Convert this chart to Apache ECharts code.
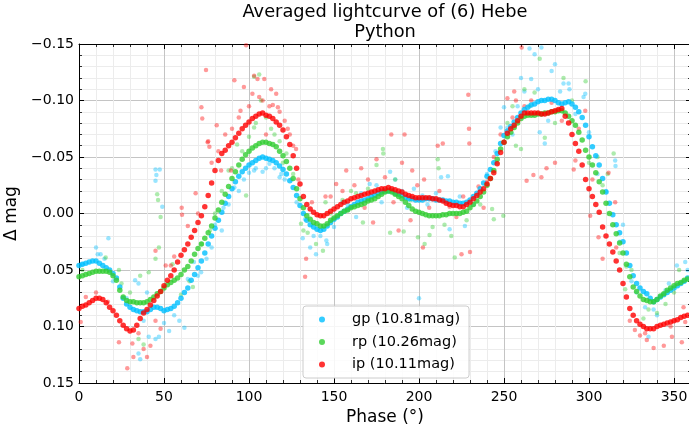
<!DOCTYPE html>
<html>
<head>
<meta charset="utf-8">
<script src="https://cdn.jsdelivr.net/npm/echarts@6/dist/echarts.min.js"></script>
<style>html,body{margin:0;padding:0;background:#fff}#chart{width:689px;height:433px}</style>
</head>
<body>
<div id="chart"></div>
<script>
// Phase samples (degrees) of the averaged curves
const phases = [0,2,4,6,8,10,12,14,16,18,20,22,24,26,28,30,32,34,36,38,40,42,44,46,48,50,52,54,56,58,60,62,64,66,68,70,72,74,76,78,80,82,84,86,88,90,92,94,96,98,100,102,104,106,108,110,112,114,116,118,120,122,124,126,128,130,132,134,136,138,140,142,144,146,148,150,152,154,156,158,160,162,164,166,168,170,172,174,176,178,180,182,184,186,188,190,192,194,196,198,200,202,204,206,208,210,212,214,216,218,220,222,224,226,228,230,232,234,236,238,240,242,244,246,248,250,252,254,256,258,260,262,264,266,268,270,272,274,276,278,280,282,284,286,288,290,292,294,296,298,300,302,304,306,308,310,312,314,316,318,320,322,324,326,328,330,332,334,336,338,340,342,344,346,348,350,352,354,356,358];

const gpAvg = [
0.046,0.045,0.044,0.043,0.042,0.042,0.044,0.046,0.048,0.050,
0.053,0.057,0.065,0.075,0.080,0.083,0.085,0.086,0.087,0.087,
0.087,0.085,0.083,0.083,0.084,0.086,0.085,0.084,0.082,0.079,
0.075,0.070,0.066,0.059,0.054,0.048,0.042,0.035,0.027,0.020,
0.013,0.006,-0.001,-0.009,-0.015,-0.022,-0.028,-0.033,-0.037,-0.040,
-0.043,-0.045,-0.047,-0.049,-0.050,-0.049,-0.048,-0.047,-0.045,-0.042,
-0.039,-0.035,-0.029,-0.023,-0.016,-0.007,0.000,0.006,0.010,0.012,
0.014,0.015,0.014,0.011,0.008,0.005,0.003,0.000,-0.002,-0.004,
-0.006,-0.008,-0.010,-0.011,-0.012,-0.013,-0.015,-0.016,-0.018,-0.019,
-0.020,-0.020,-0.020,-0.018,-0.017,-0.016,-0.014,-0.013,-0.013,-0.012,
-0.012,-0.012,-0.013,-0.013,-0.013,-0.012,-0.012,-0.012,-0.011,-0.011,
-0.010,-0.010,-0.009,-0.009,-0.010,-0.012,-0.015,-0.018,-0.022,-0.027,
-0.033,-0.039,-0.045,-0.053,-0.062,-0.069,-0.073,-0.077,-0.081,-0.085,
-0.089,-0.092,-0.094,-0.096,-0.097,-0.099,-0.100,-0.100,-0.101,-0.101,
-0.100,-0.098,-0.097,-0.098,-0.099,-0.097,-0.094,-0.090,-0.085,-0.078,
-0.068,-0.059,-0.051,-0.043,-0.031,-0.019,-0.009,0.001,0.010,0.017,
0.025,0.035,0.046,0.055,0.062,0.066,0.069,0.071,0.075,0.078,
0.076,0.074,0.072,0.070,0.068,0.066,0.064,0.062,0.060,0.057];

const rpAvg = [
0.056,0.055,0.054,0.053,0.052,0.051,0.051,0.051,0.051,0.052,
0.055,0.059,0.068,0.074,0.077,0.078,0.078,0.079,0.079,0.079,
0.078,0.076,0.074,0.071,0.069,0.066,0.063,0.061,0.059,0.057,
0.054,0.050,0.047,0.042,0.036,0.031,0.027,0.022,0.017,0.011,
0.004,-0.003,-0.010,-0.017,-0.024,-0.031,-0.037,-0.043,-0.048,-0.052,
-0.055,-0.058,-0.060,-0.062,-0.063,-0.063,-0.062,-0.061,-0.059,-0.055,
-0.051,-0.046,-0.040,-0.031,-0.022,-0.013,-0.005,0.002,0.005,0.008,
0.009,0.011,0.011,0.009,0.006,0.004,0.002,0.000,-0.002,-0.003,
-0.005,-0.006,-0.007,-0.008,-0.009,-0.011,-0.012,-0.013,-0.015,-0.017,
-0.019,-0.020,-0.019,-0.017,-0.015,-0.013,-0.010,-0.007,-0.004,-0.002,
-0.001,0.000,0.001,0.002,0.002,0.002,0.002,0.001,0.001,0.000,
0.000,0.000,0.000,-0.001,-0.002,-0.005,-0.008,-0.011,-0.015,-0.019,
-0.025,-0.031,-0.038,-0.048,-0.057,-0.063,-0.068,-0.072,-0.076,-0.080,
-0.084,-0.086,-0.087,-0.087,-0.087,-0.088,-0.088,-0.089,-0.089,-0.090,
-0.090,-0.091,-0.091,-0.089,-0.086,-0.082,-0.078,-0.072,-0.065,-0.056,
-0.050,-0.043,-0.036,-0.028,-0.019,-0.009,0.000,0.010,0.018,0.026,
0.035,0.045,0.056,0.065,0.069,0.073,0.076,0.077,0.078,0.078,
0.076,0.073,0.071,0.068,0.066,0.064,0.062,0.061,0.059,0.058];

const ipAvg = [
0.084,0.082,0.081,0.079,0.077,0.075,0.075,0.076,0.079,0.083,
0.086,0.090,0.095,0.099,0.102,0.104,0.103,0.099,0.093,0.088,
0.085,0.081,0.077,0.073,0.069,0.064,0.059,0.055,0.050,0.043,
0.037,0.032,0.027,0.021,0.015,0.008,0.002,-0.006,-0.016,-0.027,
-0.038,-0.047,-0.053,-0.056,-0.060,-0.063,-0.067,-0.071,-0.075,-0.078,
-0.081,-0.084,-0.086,-0.088,-0.089,-0.087,-0.086,-0.084,-0.081,-0.078,
-0.074,-0.068,-0.061,-0.051,-0.040,-0.026,-0.015,-0.008,-0.004,-0.001,
0.001,0.002,0.002,0.000,-0.002,-0.004,-0.006,-0.008,-0.010,-0.011,
-0.013,-0.014,-0.015,-0.016,-0.017,-0.018,-0.019,-0.020,-0.021,-0.022,
-0.022,-0.023,-0.022,-0.021,-0.020,-0.019,-0.017,-0.016,-0.015,-0.014,
-0.014,-0.014,-0.014,-0.014,-0.013,-0.013,-0.012,-0.011,-0.009,-0.008,
-0.007,-0.007,-0.006,-0.006,-0.008,-0.010,-0.013,-0.016,-0.019,-0.022,
-0.026,-0.031,-0.036,-0.044,-0.054,-0.063,-0.071,-0.075,-0.078,-0.082,
-0.086,-0.089,-0.089,-0.089,-0.089,-0.089,-0.088,-0.088,-0.089,-0.090,
-0.091,-0.092,-0.093,-0.086,-0.080,-0.070,-0.062,-0.055,-0.043,-0.030,
-0.022,-0.015,-0.008,-0.001,0.012,0.020,0.027,0.034,0.042,0.050,
0.062,0.074,0.084,0.090,0.095,0.098,0.100,0.102,0.102,0.102,
0.100,0.099,0.098,0.097,0.096,0.095,0.094,0.092,0.091,0.090];

// Individual (raw) measurements [phase, delta mag]
const gpRaw = [[2,0.045],[10,0.030],[11,0.036],[12.7,0.036],[17.3,0.022],[15,0.040],[33,0.059],[35,0.062],[45,-0.039],[47.5,-0.039],[45.5,-0.034],[45,-0.029],[49,-0.006],[41,0.109],[45,0.111],[47,0.109],[35,0.124],[36,0.129],[53,0.104],[59,0.095],[62,0.101],[67.6,0.043],[50,0.097],[38,0.095],[56,0.090],[64,0.058],[70,0.055],[20,0.060],[28,0.075],[40,0.070],
[71.8,0.052],[80,0.010],[91.4,-0.023],[103,-0.038],[108,-0.037],[119,-0.035],[118,-0.032],[131.6,0.022],[139.4,0.036],[136,0.030],[142,0.020],[85,-0.005],[97,-0.030],[112,-0.044],[125,-0.030],
[200,0.075],[183,-0.037],[186,-0.030],[202,-0.016],[171,-0.026],[145.5,0.024],[146,0.027],[163,0.003],[213,-0.032],[155,-0.010],[193,-0.005],[178,-0.010],
[265,-0.146],[272,-0.147],[268,-0.141],[280,-0.132],[278,-0.126],[260,-0.120],[266,-0.119],[250,-0.094],[248,-0.076],[252,-0.076],[271,-0.072],[274,-0.062],[217,-0.033],[218,0.014],[227,0.011],[285,-0.115],[276,-0.082],[262,-0.108],
[288,-0.115],[288.5,-0.110],[297.8,-0.106],[296.8,-0.103],[315.4,-0.047],[315.6,-0.042],[351.7,0.046],[356.6,0.043],[325,0.060],[333,0.083],[335,0.109],[347,0.062],[340,0.090],[310,-0.020],[320,0.010],
[75,0.040],[78,0.030],[84,0.015],[88,-0.008],[94,-0.020],[100,-0.036],[104,-0.040],[110,-0.040],[115,-0.040],[121,-0.030],[128,-0.010],[133,0.005],[138,0.020],[150,0.012],[158,-0.008],[166,-0.018],[175,-0.025],[190,-0.020],[197,-0.022],[205,-0.008],[210,-0.018],[224,-0.015],[232,-0.008],[240,-0.035],[245,-0.055],[255,-0.070],[258,-0.095],[270,-0.110],[283,-0.108],[292,-0.088],[300,-0.072],[305,-0.035],[318,0.025],[328,0.070],[338,0.085],[345,0.068],[358,0.050]];

const rpRaw = [[2,0.050],[15.7,0.039],[23.5,0.050],[36,0.055],[46,-0.017],[46.5,-0.012],[48,0.003],[47,0.030],[45,0.040],[41,0.052],[35,0.111],[38,0.116],[65,0.060],[67,0.065],[30,0.070],[55,0.045],[25,0.062],[60,0.072],
[103,-0.121],[106,-0.123],[107,-0.100],[103,-0.076],[93,-0.061],[88,-0.038],[122,-0.053],[130.6,0.009],[134.5,0.017],[139.4,0.027],[98.3,-0.016],[77,0.015],[72,0.027],[115,-0.070],
[178.8,-0.057],[179,-0.053],[175,-0.043],[211,-0.048],[211.5,-0.040],[199.4,0.021],[203.3,0.027],[206.2,0.019],[183,0.017],[191,0.016],[158,-0.003],[167,0.008],[145,-0.010],[143.5,0.033],[160,-0.020],
[271,-0.137],[285,-0.120],[262,-0.110],[268,-0.107],[249.6,0.002],[243,-0.004],[244,0.005],[221,0.039],[219,0.020],[257,-0.060],[260,-0.057],[274,-0.067],[255,-0.095],
[298,-0.117],[314.5,-0.053],[322,0.047],[325,0.050],[353,0.050],[332,0.093],[321.3,0.067],[305,-0.050],[311,-0.035],[345,0.080],[340,0.088],
[80,0.000],[84,-0.020],[90,-0.040],[96,-0.055],[100,-0.068],[104,-0.080],[110,-0.085],[113,-0.075],[118,-0.064],[120,-0.045],[126,-0.035],[132,0.015],[148,0.000],[155,-0.012],[163,-0.018],[170,-0.022],[186,-0.030],[195,-0.012],[208,0.012],[215,0.010],[228,0.006],[236,-0.008],[246,-0.045],[252,-0.080],[265,-0.095],[280,-0.080],[290,-0.100],[300,-0.045],[308,-0.025],[318,0.035],[335,0.085],[350,0.070]];

const ipRaw = [[28.4,0.137],[23.5,0.114],[31.4,0.115],[38,0.120],[40,0.127],[32,0.127],[35,0.106],[42,0.117],[60.4,-0.005],[60.6,0.001],[64,0.011],[70,0.000],[68.6,-0.018],[4,0.074],[10,0.070],[1,0.096],[17,0.078],[54,0.046],[45,0.033],[51,0.046],[45,0.095],[48,0.102],[56,0.038],
[98.3,-0.149],[74.7,-0.127],[91.4,-0.118],[103,-0.122],[105,-0.119],[109,-0.119],[97,-0.112],[102,-0.106],[106,-0.103],[113,-0.110],[116,-0.106],[114,-0.096],[117,-0.094],[95,-0.091],[72,-0.094],[72.5,-0.084],[81,-0.078],[75.7,-0.063],[76.7,-0.059],[76,-0.064],[122.8,-0.075],[124,-0.070],[127.7,-0.057],[83.6,-0.038],[89.4,-0.038],[133.6,0.040],[133,0.056],[126,-0.060],[110,-0.070],
[183.7,-0.070],[191.5,-0.070],[157.2,-0.038],[175,-0.048],[166,-0.040],[151.3,-0.026],[211,-0.060],[214,-0.062],[196,-0.038],[203,-0.030],[173,0.008],[195,0.006],[202.3,0.030],[188,0.015],[170,-0.030],[145,-0.015],[190,-0.045],
[229,-0.105],[260.4,-0.147],[229.4,-0.075],[229.6,-0.062],[225,0.036],[230,0.034],[263.3,-0.029],[267.3,-0.034],[272,-0.032],[275,-0.040],[280,-0.045],[257,-0.100],[256,-0.108],[262,-0.095],[252,-0.102],[218,-0.006],[235,-0.024],[240,-0.028],[222,0.003],[238,-0.005],
[297.8,-0.091],[291,-0.039],[292,-0.047],[311.5,-0.036],[315.4,-0.010],[300.7,0.002],[305.6,0.021],[308,0.040],[338,0.119],[344,0.117],[348.8,0.109],[354.6,0.114],[355.6,0.083],[356.6,0.096],[330,0.108],[333,0.106],[327,0.103],
[78,-0.045],[82,-0.055],[86,-0.070],[90,-0.075],[94,-0.085],[100,-0.095],[108,-0.100],[112,-0.095],[118,-0.090],[121,-0.082],[129,-0.030],[137,-0.010],[148,-0.015],[155,-0.020],[162,-0.025],[168,-0.005],[180,-0.032],[185,-0.010],[199,-0.025],[206,-0.005],[212,-0.020],[226,-0.015],[244,-0.050],[248,-0.070],[255,-0.085],[266,-0.100],[278,-0.098],[284,-0.082],[294,-0.075],[302,-0.030],[316,0.030],[324,0.095],[334,0.112],[348,0.100]];

const seriesNames = ['gp (10.81mag)', 'rp (10.26mag)', 'ip (10.11mag)'];
const colors = ['#00BFFF', '#32CD32', '#FF0000'];
const rawColors = ['rgba(0,191,255,0.5)', 'rgba(50,205,50,0.5)', 'rgba(255,0,0,0.5)'];
const xTicks = [0, 50, 100, 150, 200, 250, 300, 350];
const yTicks = [-0.15, -0.10, -0.05, 0.00, 0.05, 0.10, 0.15];

const FONT = 'DejaVu Sans';
const avgs = [gpAvg, rpAvg, ipAvg];
const raws = [gpRaw, rpRaw, ipRaw];

const fmtY = v => v.toFixed(2).replace('-', '\u2212');

function axisCommon(extra) {
  return Object.assign({
    type: 'value',
    axisLine: { show: true, onZero: false, lineStyle: { color: '#000', width: 1 } },
    axisTick: { show: true, inside: true, length: 5, lineStyle: { color: '#000', width: 1 } },
    minorTick: { show: true, splitNumber: 5, length: 3, lineStyle: { color: '#000', width: 0.8 } },
    splitLine: { show: false },
    minorSplitLine: { show: false },
    axisLabel: { show: false }
  }, extra);
}

const chart = echarts.init(document.getElementById('chart'), null, { renderer: 'canvas' });

const series = [];
for (let k = 0; k < 3; k++) {
  series.push({
    type: 'scatter', name: 'raw' + k, xAxisIndex: 0, yAxisIndex: 0,
    data: raws[k], symbolSize: 4.5, itemStyle: { color: rawColors[k] },
    silent: true, z: 2
  });
}
for (let k = 0; k < 3; k++) {
  series.push({
    type: 'scatter', name: seriesNames[k], xAxisIndex: 0, yAxisIndex: 0,
    data: phases.map((p, i) => [p, avgs[k][i]]), symbolSize: 5.5,
    itemStyle: { color: colors[k] }, silent: true, z: 3
  });
}

chart.setOption({
  animation: false,
  textStyle: { fontFamily: FONT },
  title: {
    text: 'Averaged lightcurve of (6) Hebe\nPython',
    left: 385, top: 3, textAlign: 'center', padding: 0,
    textStyle: { fontFamily: FONT, fontSize: 17.8, fontWeight: 'normal', color: '#000', lineHeight: 19.5 }
  },
  grid: { left: 79, top: 44, width: 612, height: 339, containLabel: false, outerBoundsMode: 'none' },
  xAxis: [
    axisCommon({
      position: 'bottom', min: 0, max: 360, interval: 50,
      splitLine: { show: true, lineStyle: { color: '#c4c4c4', width: 1 } },
      minorSplitLine: { show: true, lineStyle: { color: '#ececec', width: 1 } },
      axisLabel: { show: true, fontSize: 14, color: '#000', margin: 7, fontFamily: FONT,
        formatter: v => xTicks.includes(v) ? String(v) : '' },
      name: 'Phase (°)', nameLocation: 'middle', nameGap: 22,
      nameTextStyle: { fontSize: 17, color: '#000', fontFamily: FONT }
    }),
    axisCommon({ position: 'top', min: 0, max: 360, interval: 50 })
  ],
  yAxis: [
    axisCommon({
      position: 'left', min: -0.15, max: 0.15, interval: 0.05, inverse: true,
      splitLine: { show: true, lineStyle: { color: '#c4c4c4', width: 1 } },
      minorSplitLine: { show: true, lineStyle: { color: '#ececec', width: 1 } },
      axisLabel: { show: true, fontSize: 14, color: '#000', margin: 5, fontFamily: FONT,
        formatter: v => fmtY(yTicks.find(t => Math.abs(t - v) < 1e-9) ?? v) },
      name: 'Δ mag', nameLocation: 'middle', nameGap: 55, nameRotate: 90,
      nameTextStyle: { fontSize: 17, color: '#000', fontFamily: FONT }
    }),
    axisCommon({ position: 'right', min: -0.15, max: 0.15, interval: 0.05, inverse: true })
  ],
  legend: {
    data: seriesNames.map(n => ({ name: n, icon: 'circle' })),
    orient: 'vertical', left: 303, top: 306,
    itemWidth: 6, itemHeight: 6, itemGap: 7.5,
    padding: [6, 9, 6, 16],
    backgroundColor: 'rgba(255,255,255,0.85)',
    borderColor: '#cccccc', borderWidth: 1, borderRadius: 3,
    selectedMode: false,
    textStyle: { fontSize: 14.5, color: '#000', fontFamily: FONT, padding: [0, 0, 0, 22] }
  },
  series: series
});
</script>
</body>
</html>
